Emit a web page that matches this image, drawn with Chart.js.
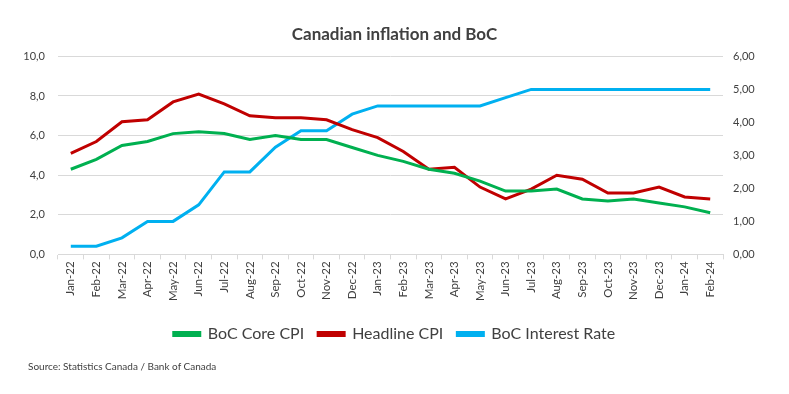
<!DOCTYPE html>
<html>
<head>
<meta charset="utf-8">
<script src="https://cdn.jsdelivr.net/npm/chart.js@4/dist/chart.umd.min.js"></script>
<style>
  html, body { margin: 0; padding: 0; background: #fff; }
  #wrap { position: relative; width: 789px; height: 394px; }
  #source { position: absolute; left: 28px; top: 360px; font-family: Lato, "Open Sans", sans-serif; font-size: 10px; color: #404040; }
</style>
</head>
<body>
<div id="wrap">
  <canvas id="c" width="789" height="394"></canvas>
  <div id="source">Source: Statistics Canada / Bank of Canada</div>
</div>
<script>
const categories = ["Jan-22","Feb-22","Mar-22","Apr-22","May-22","Jun-22","Jul-22","Aug-22","Sep-22","Oct-22","Nov-22","Dec-22","Jan-23","Feb-23","Mar-23","Apr-23","May-23","Jun-23","Jul-23","Aug-23","Sep-23","Oct-23","Nov-23","Dec-23","Jan-24","Feb-24"];
const coreCPI = [4.3,4.8,5.5,5.7,6.1,6.2,6.1,5.8,6.0,5.8,5.8,5.4,5.0,4.7,4.3,4.1,3.7,3.2,3.2,3.3,2.8,2.7,2.8,2.6,2.4,2.1];
const headlineCPI = [5.1,5.7,6.7,6.8,7.7,8.1,7.6,7.0,6.9,6.9,6.8,6.3,5.9,5.2,4.3,4.4,3.4,2.8,3.3,4.0,3.8,3.1,3.1,3.4,2.9,2.8];
const interestRate = [0.25,0.25,0.5,1.0,1.0,1.5,2.5,2.5,3.25,3.75,3.75,4.25,4.5,4.5,4.5,4.5,4.5,4.75,5.0,5.0,5.0,5.0,5.0,5.0,5.0,5.0];
const leftTicks = [0,2,4,6,8,10];
const rightTicks = [0,1,2,3,4,5,6];

const FONT = 'Lato, "Open Sans", sans-serif';
const GREEN = '#00B050', RED = '#C00000', BLUE = '#00B0F0';

new Chart(document.getElementById('c'), {
  type: 'line',
  data: {
    labels: categories,
    datasets: [
      { label: 'BoC Core CPI', data: coreCPI, borderColor: GREEN, backgroundColor: GREEN, yAxisID: 'y', borderWidth: 3, pointRadius: 0, tension: 0 },
      { label: 'Headline CPI', data: headlineCPI, borderColor: RED, backgroundColor: RED, yAxisID: 'y', borderWidth: 3, pointRadius: 0, tension: 0 },
      { label: 'BoC Interest Rate', data: interestRate, borderColor: BLUE, backgroundColor: BLUE, yAxisID: 'y1', borderWidth: 3, pointRadius: 0, tension: 0 }
    ]
  },
  options: {
    responsive: false,
    animation: false,
    layout: { padding: { left: 0, right: 0, top: 0, bottom: 42 } },
    plugins: {
      title: { display: true, text: 'Canadian inflation and BoC', color: '#404040', font: { family: FONT, size: 17, weight: 'bold' }, padding: { top: 24, bottom: 12 } },
      legend: {
        position: 'bottom',
        labels: { color: '#404040', font: { family: FONT, size: 16 }, boxWidth: 26, boxHeight: 3, padding: 14 }
      },
      tooltip: { enabled: false }
    },
    scales: {
      x: {
        offset: true,
        afterFit: s => { s.height += 9; },
        grid: { display: true, drawOnChartArea: false, offset: true, tickLength: 5, color: '#d9d9d9' },
        border: { color: '#d9d9d9' },
        ticks: { color: '#404040', font: { family: FONT, size: 11.5 }, maxRotation: 90, minRotation: 90, autoSkip: false, padding: 2 }
      },
      y: {
        position: 'left', min: 0, max: 10,
        afterBuildTicks: s => { s.ticks = leftTicks.map(v => ({ value: v })); },
        afterFit: s => { s.width = 58; },
        grid: { color: '#d9d9d9', drawTicks: false },
        border: { display: false },
        ticks: { color: '#404040', font: { family: FONT, size: 11 }, padding: 13, callback: v => v.toFixed(1).replace('.', ',') }
      },
      y1: {
        position: 'right', min: 0, max: 6,
        afterBuildTicks: s => { s.ticks = rightTicks.map(v => ({ value: v })); },
        afterFit: s => { s.width = 66; },
        grid: { display: false, drawTicks: false },
        border: { display: false },
        ticks: { color: '#404040', font: { family: FONT, size: 11 }, padding: 10, callback: v => v.toFixed(2).replace('.', ',') }
      }
    }
  }
});
</script>
</body>
</html>
